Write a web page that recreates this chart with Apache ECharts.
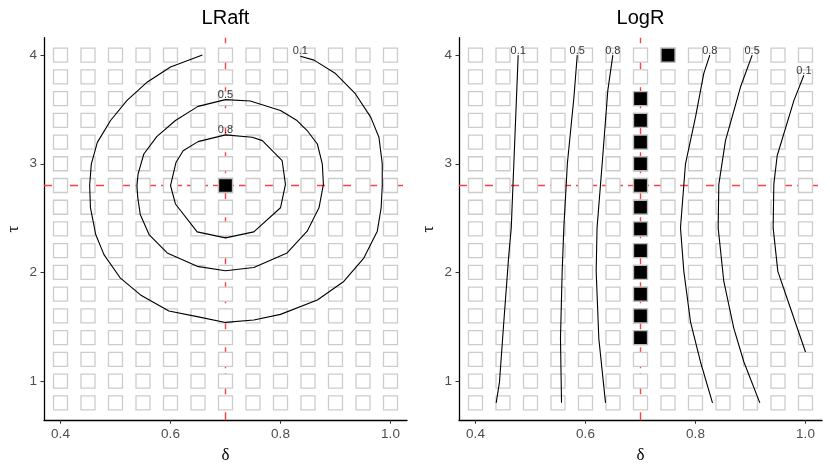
<!DOCTYPE html>
<html><head><meta charset="utf-8">
<script src="https://cdn.jsdelivr.net/npm/echarts@6/dist/echarts.min.js"></script>
<style>html,body{margin:0;padding:0;background:#fff}#c{width:830px;height:475px}</style>
</head><body><div id="c"></div>
<script>
// ---- data ----
const deltaGrid = [0.40,0.45,0.50,0.55,0.60,0.65,0.70,0.75,0.80,0.85,0.90,0.95,1.00];
const tauGrid = [0.8,1.0,1.2,1.4,1.6,1.8,2.0,2.2,2.4,2.6,2.8,3.0,3.2,3.4,3.6,3.8,4.0];
const xTicks = [0.4,0.6,0.8,1.0];
const yTicks = [1,2,3,4];
const trueDelta = 0.7;
const trueTau = 2.8;
const panelTitles = ['LRaft','LogR'];

const lraftSelected = [[0.7,2.8]];
const logrSelected = [[0.7,1.4],[0.7,1.6],[0.7,1.8],[0.7,2.0],[0.7,2.2],[0.7,2.4],[0.7,2.6],[0.7,2.8],[0.7,3.0],[0.7,3.2],[0.7,3.4],[0.7,3.6],[0.75,4.0]];

const lraftC01 = [[0.658,4.0],[0.600,3.89],[0.558,3.753],[0.521,3.583],[0.491,3.398],[0.467,3.197],[0.456,2.997],[0.453,2.80],[0.4545,2.595],[0.464,2.349],[0.479,2.164],[0.509,1.947],[0.5455,1.793],[0.597,1.645],[0.6485,1.593],[0.70,1.54],[0.7515,1.562],[0.80,1.614],[0.867,1.747],[0.915,1.917],[0.9515,2.132],[0.976,2.38],[0.983,2.595],[0.985,2.80],[0.985,3.0],[0.979,3.244],[0.964,3.429],[0.936,3.645],[0.90,3.83],[0.861,3.954],[0.836,3.99]];
const lraftC05 = [[0.70,3.59],[0.65,3.528],[0.609,3.398],[0.575,3.25],[0.5515,3.09],[0.541,2.905],[0.539,2.796],[0.5405,2.688],[0.545,2.534],[0.561,2.349],[0.594,2.179],[0.6485,2.056],[0.70,2.016],[0.7515,2.046],[0.812,2.179],[0.8485,2.38],[0.870,2.595],[0.878,2.81],[0.876,3.0],[0.867,3.182],[0.8485,3.306],[0.83,3.398],[0.80,3.49],[0.745,3.577],[0.70,3.59]];
const lraftC08 = [[0.70,3.266],[0.650,3.204],[0.623,3.12],[0.610,3.012],[0.60,2.80],[0.609,2.63],[0.6485,2.373],[0.70,2.318],[0.7515,2.373],[0.80,2.595],[0.809,2.81],[0.803,3.028],[0.767,3.213],[0.7485,3.244],[0.70,3.266]];

const logrL01 = [[0.4776,4.0],[0.4697,3.0],[0.465,2.41],[0.4606,2.164],[0.4515,1.546],[0.4436,0.991],[0.4376,0.8]];
const logrL05 = [[0.585,4.0],[0.579,3.614],[0.567,3.0],[0.5606,2.41],[0.5576,2.01],[0.5545,1.392],[0.5564,0.8]];
const logrL08 = [[0.6497,4.0],[0.6406,3.676],[0.6303,3.0],[0.621,2.41],[0.6194,2.01],[0.6242,1.392],[0.6364,0.8]];
const logrR08 = [[0.826,4.0],[0.815,3.83],[0.80,3.429],[0.7818,3.0],[0.7727,2.41],[0.7788,2.01],[0.7909,1.546],[0.8091,1.176],[0.8309,0.8]];
const logrR05 = [[0.903,4.0],[0.8818,3.706],[0.8545,3.213],[0.8424,2.81],[0.8412,2.41],[0.8515,1.917],[0.8697,1.485],[0.888,1.176],[0.917,0.8]];
const logrR01 = [[0.997,3.815],[0.979,3.583],[0.9485,3.074],[0.9424,2.81],[0.9412,2.41],[0.9497,2.01],[0.9727,1.67],[1.0,1.268]];

const lraftLabels = [[0.836,4.0,'0.1'],[0.70,3.59,'0.5'],[0.70,3.266,'0.8']];
const logrLabels = [[0.4776,4.0,'0.1'],[0.585,4.0,'0.5'],[0.6497,4.0,'0.8'],[0.826,4.0,'0.8'],[0.903,4.0,'0.5'],[0.997,3.815,'0.1']];

// ---- build ----
const X_MIN = 0.37, X_MAX = 1.03, Y_MIN = 0.64, Y_MAX = 4.16;
const allPoints = [];
deltaGrid.forEach(d => tauGrid.forEach(t => allPoints.push([d, t])));

const SANS = 'Liberation Sans';
const grids = [
  {left: 44, top: 37.72, width: 363, height: 382.5},
  {left: 459, top: 37.72, width: 363, height: 382.5}
];
function xAx(i) {
  return {
    type: 'value', gridIndex: i, min: X_MIN, max: X_MAX,
    axisLine: {show: true, onZero: false, lineStyle: {color: '#000', width: 1.3}},
    axisTick: {show: true, customValues: xTicks, length: 3.5, lineStyle: {color: '#333', width: 1}},
    axisLabel: {customValues: xTicks, formatter: v => v.toFixed(1), color: '#4d4d4d', fontSize: 13.5, fontFamily: SANS, margin: 7},
    splitLine: {show: false},
    name: 'δ', nameLocation: 'middle', nameGap: 27,
    nameTextStyle: {fontFamily: 'Liberation Serif', fontSize: 17, color: '#000'}
  };
}
function yAx(i) {
  return {
    type: 'value', gridIndex: i, min: Y_MIN, max: Y_MAX,
    axisLine: {show: true, onZero: false, lineStyle: {color: '#000', width: 1.3}},
    axisTick: {show: true, customValues: yTicks, length: 3.5, lineStyle: {color: '#333', width: 1}},
    axisLabel: {customValues: yTicks, formatter: v => String(Math.round(v)), color: '#4d4d4d', fontSize: 13.5, fontFamily: SANS, margin: 7},
    splitLine: {show: false},
    name: 'τ', nameLocation: 'middle', nameGap: 22, nameRotate: 90,
    nameTextStyle: {fontFamily: 'Liberation Serif', fontSize: 17, color: '#000'}
  };
}
const series = [];
const panels = [
  {sel: lraftSelected, contours: [lraftC01, lraftC05, lraftC08], labels: lraftLabels},
  {sel: logrSelected, contours: [logrL01, logrL05, logrL08, logrR08, logrR05, logrR01], labels: logrLabels}
];
function refLine(i, pts) {
  return {
    type: 'line', xAxisIndex: i, yAxisIndex: i, z: 0, silent: true, showSymbol: false, symbol: 'none',
    color: '#ff4040', data: pts,
    lineStyle: {color: '#ff4040', type: [8, 5], width: 1.4, opacity: 1}
  };
}
panels.forEach((p, i) => {
  series.push(refLine(i, [[trueDelta, Y_MIN], [trueDelta, Y_MAX]]));
  series.push(refLine(i, [[X_MIN, trueTau], [X_MAX, trueTau]]));
  series.push({
    type: 'scatter', xAxisIndex: i, yAxisIndex: i, data: allPoints, z: 2, silent: true,
    symbol: 'rect', symbolSize: 14,
    itemStyle: {color: '#fff', borderColor: '#cccccc', borderWidth: 1.3, opacity: 1}
  });
  series.push({
    type: 'scatter', xAxisIndex: i, yAxisIndex: i, data: p.sel, z: 3, silent: true,
    symbol: 'rect', symbolSize: 14,
    itemStyle: {color: '#000', borderColor: '#bbbbbb', borderWidth: 1.3, opacity: 1}
  });
  p.contours.forEach(c => series.push({
    type: 'line', xAxisIndex: i, yAxisIndex: i, data: c, z: 4, silent: true,
    showSymbol: false, smooth: false, lineStyle: {color: '#000', width: 1.1}
  }));
  series.push({
    type: 'scatter', xAxisIndex: i, yAxisIndex: i, data: p.labels, z: 5, silent: true,
    symbolSize: 0,
    label: {show: true, position: 'inside', offset: [0, -4.5], formatter: q => q.data[2],
      color: '#000', fontSize: 11, fontFamily: SANS}
  });
});

const chart = echarts.init(document.getElementById('c'), null, {renderer: 'canvas'});
chart.setOption({
  backgroundColor: '#fff',
  animation: false,
  grid: grids,
  xAxis: [xAx(0), xAx(1)],
  yAxis: [yAx(0), yAx(1)],
  graphic: panelTitles.map((t, i) => ({
    type: 'text', x: grids[i].left + grids[i].width / 2, y: 18,
    style: {text: t, align: 'center', verticalAlign: 'middle', textAlign: 'center', textVerticalAlign: 'middle',
      font: '20px "Liberation Sans"', fill: '#000'}
  })),
  series: series
});
</script></body></html>
